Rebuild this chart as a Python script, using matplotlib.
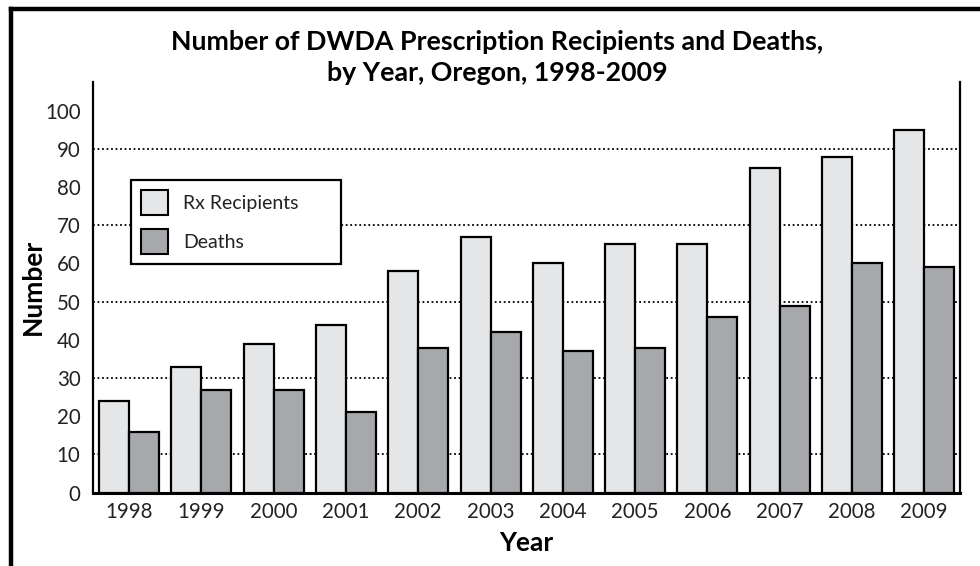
import numpy as np
import matplotlib.pyplot as plt
from matplotlib.lines import Line2D
from matplotlib.patches import Patch

years = ['1998', '1999', '2000', '2001', '2002', '2003',
         '2004', '2005', '2006', '2007', '2008', '2009']
rx_recipients = [24, 33, 39, 44, 58, 67, 60, 65, 65, 85, 88, 95]
deaths = [16, 27, 27, 21, 38, 42, 37, 38, 46, 49, 60, 59]
grid_levels = [10, 30, 50, 70, 90]

plt.rcParams['font.family'] = ['Lato', 'DejaVu Sans']

light = '#e5e6e8'
dark = '#a7a8ab'

fig = plt.figure(figsize=(9.8, 5.66), dpi=100)
ax = fig.add_axes([0.0949, 0.1295, 0.885, 0.7256])

x = np.arange(len(years))
w = 0.415
ax.bar(x - w / 2, rx_recipients, w, color=light, edgecolor='black', linewidth=1.6, zorder=3)
ax.bar(x + w / 2, deaths, w, color=dark, edgecolor='black', linewidth=1.6, zorder=3)

for g in grid_levels:
    ax.axhline(g, color='black', linestyle=(0, (1, 1.5)), linewidth=1.3, zorder=1)

ax.set_xlim(-0.5, len(years) - 0.5)
ax.set_ylim(0, 107.5)
ax.set_yticks(np.arange(0, 101, 10))
ax.set_xticks(x)
ax.set_xticklabels(years)
ax.tick_params(axis='both', length=0, labelsize=14.8, colors='#222222')
ax.tick_params(axis='y', pad=9)
ax.tick_params(axis='x', pad=7)

ax.spines['top'].set_visible(False)
ax.spines['left'].set_linewidth(1.6)
ax.spines['right'].set_linewidth(1.6)
ax.spines['bottom'].set_linewidth(2.2)

ax.set_xlabel('Year', fontsize=19, fontweight='bold', labelpad=6)
ax.set_ylabel('Number', fontsize=19, fontweight='bold', labelpad=0)

fig.text(0.507, 0.925, 'Number of DWDA Prescription Recipients and Deaths,',
         ha='center', va='center', fontsize=19.3, fontweight='bold')
fig.text(0.507, 0.871, 'by Year, Oregon, 1998-2009',
         ha='center', va='center', fontsize=19.3, fontweight='bold')

handles = [Patch(facecolor=light, edgecolor='black', linewidth=1.5),
           Patch(facecolor=dark, edgecolor='black', linewidth=1.5)]
leg = ax.legend(handles, ['Rx Recipients', 'Deaths'], loc='upper left',
                bbox_to_anchor=(0.0438, 0.761, 0.242, 0.0), mode='expand',
                fontsize=14, frameon=True,
                fancybox=False, edgecolor='black', framealpha=1,
                handlelength=1.4, handleheight=1.6, handletextpad=0.8,
                borderpad=0.5, labelspacing=0.75, borderaxespad=0)
leg.get_frame().set_linewidth(1.6)
leg.set_zorder(5)
for t in leg.get_texts():
    t.set_color('#222222')

# heavy frame on the left and top edges
fig.add_artist(Line2D([0.0112, 0.0112], [0, 0.9845], color='black', linewidth=3.2,
                      transform=fig.transFigure, solid_capstyle='projecting'))
fig.add_artist(Line2D([0.0112, 1.0], [0.9845, 0.9845], color='black', linewidth=3.2,
                      transform=fig.transFigure, solid_capstyle='projecting'))

fig.savefig('out.png', dpi=100)
